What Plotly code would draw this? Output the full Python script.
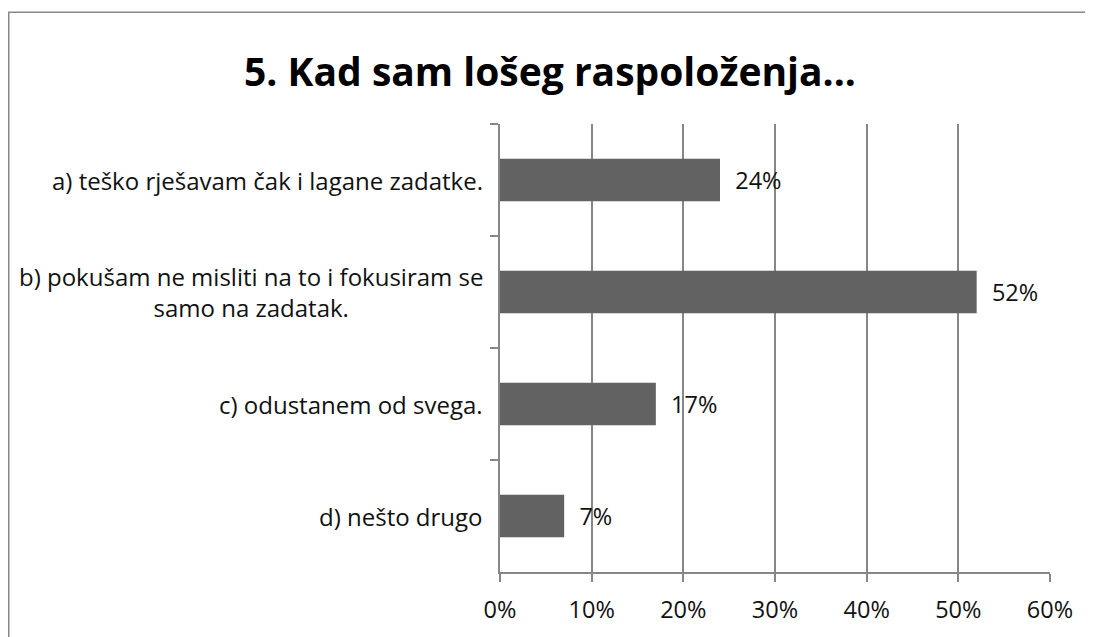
import plotly.graph_objects as go

categories = [
    "a) teško rješavam čak i lagane zadatke.",
    "b) pokušam ne misliti na to i fokusiram se<br>samo na zadatak.",
    "c) odustanem od svega.",
    "d) nešto drugo",
]
values = [24, 52, 17, 7]
labels = ["24%", "52%", "17%", "7%"]
x_ticks = [0, 10, 20, 30, 40, 50, 60]
x_tick_labels = ["0%", "10%", "20%", "30%", "40%", "50%", "60%"]
title_text = "5. Kad sam lošeg raspoloženja..."

FONT = "Open Sans"
GRAY = "#878787"
TXT = "#111111"

# page has an 8px body margin, so the figure is offset by 8px
OFF = 8
W, H = 1093 - OFF, 637 - OFF
L = 500 - OFF
T = 124 - OFF
R = W - (1050 - OFF)
B = H - (577 - OFF)
pw = W - L - R
ph = H - T - B


def px_to_paper_x(px):
    return (px - OFF - L) / pw


def px_to_paper_y(py):
    return (H - B - (py - OFF)) / ph


fig = go.Figure(
    go.Bar(
        x=values,
        y=categories,
        orientation="h",
        marker=dict(color="#626262", line=dict(width=0)),
        width=0.38,
        text=labels,
        texttemplate="\u00a0\u00a0%{text}",
        textposition="outside",
        textfont=dict(family=FONT, size=23.5, color=TXT),
        cliponaxis=False,
    )
)

annotations = [
    dict(
        x=0,
        xref="paper",
        y=cat,
        yref="y",
        text=cat,
        showarrow=False,
        xanchor="right",
        yanchor="middle",
        align="center",
        xshift=-15,
        font=dict(family=FONT, size=24, color=TXT),
    )
    for cat in categories
]

fig.update_layout(
    width=W,
    height=H,
    margin=dict(l=L, r=R, t=T, b=B, pad=0),
    paper_bgcolor="white",
    plot_bgcolor="white",
    showlegend=False,
    title=dict(
        text="<b>" + title_text + "</b>",
        x=(550 - OFF) / W,
        xanchor="center",
        y=1 - (72 - OFF) / H,
        yanchor="middle",
        yref="container",
        font=dict(family=FONT, size=39, color="#000000"),
    ),
    font=dict(family=FONT, size=23.5, color=TXT),
    xaxis=dict(
        range=[0, 60],
        tickvals=x_ticks,
        ticktext=x_tick_labels,
        showgrid=True,
        gridcolor=GRAY,
        gridwidth=1.5,
        showline=True,
        linecolor=GRAY,
        linewidth=1.5,
        ticks="outside",
        ticklen=8,
        tickcolor=GRAY,
        tickwidth=1.5,
        zeroline=False,
        ticklabelstandoff=8,
        tickfont=dict(family=FONT, size=23.5, color=TXT),
        fixedrange=True,
    ),
    yaxis=dict(
        categoryorder="array",
        categoryarray=categories,
        autorange="reversed",
        showgrid=False,
        showline=True,
        linecolor=GRAY,
        linewidth=1.5,
        ticks="outside",
        tickson="boundaries",
        ticklen=8,
        tickcolor=GRAY,
        tickwidth=1.5,
        showticklabels=False,
        fixedrange=True,
    ),
    annotations=annotations,
    shapes=[
        dict(
            type="rect",
            xref="paper",
            yref="paper",
            x0=px_to_paper_x(8.75),
            x1=px_to_paper_x(1120),
            y0=px_to_paper_y(680),
            y1=px_to_paper_y(11),
            line=dict(color=GRAY, width=1.5),
            fillcolor="rgba(0,0,0,0)",
            layer="below",
        )
    ],
)

fig.write_html("out.html")
